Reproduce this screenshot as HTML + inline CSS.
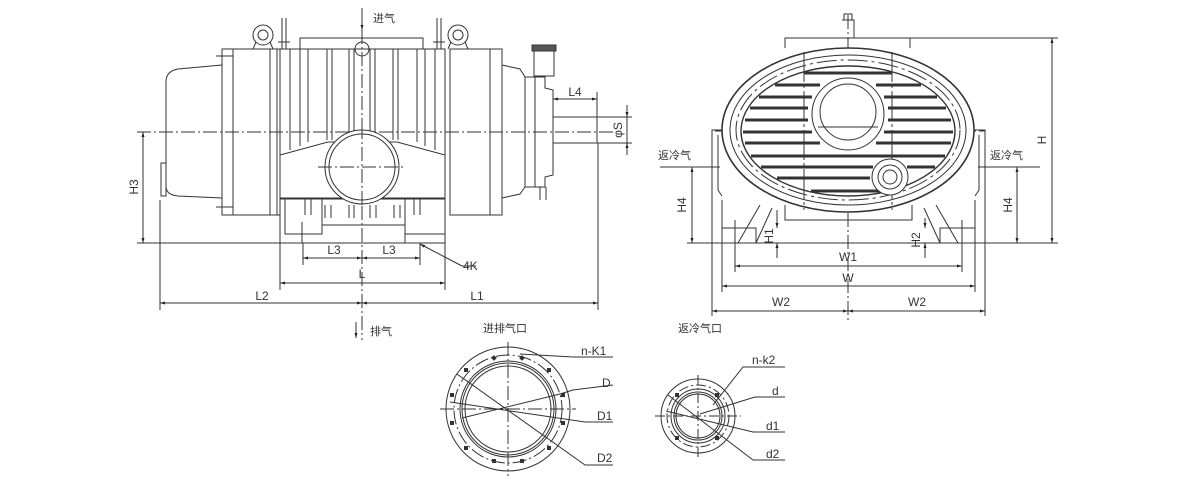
<!DOCTYPE html>
<html><head><meta charset="utf-8"><style>
html,body{margin:0;padding:0;background:#fff;}
svg{display:block;}
text{font-family:"Liberation Sans","Noto Sans CJK SC",sans-serif;fill:#333;font-size:12px;}
.c{font-family:"Liberation Sans","Noto Sans CJK SC",sans-serif;font-size:11px;}
</style></head><body>
<svg width="1200" height="477" viewBox="0 0 1200 477" xmlns="http://www.w3.org/2000/svg">
<defs>
<marker id="a" viewBox="0 0 10 10" refX="10" refY="5" markerWidth="7" markerHeight="5" orient="auto-start-reverse"><path d="M0,2 L10,5 L0,8z" fill="#222"/></marker>
</defs>
<g fill="none" stroke="#333" stroke-width="1">
<!-- ============ LEFT VIEW ============ -->
<line x1="362" y1="8" x2="362" y2="340" stroke-dasharray="14,3,2,3"/>
<line x1="137" y1="132" x2="615" y2="132" stroke-dasharray="14,3,2,3"/>
<!-- left cover -->
<path d="M222,65 L178,69 Q166,71 166,82 L166,186 Q166,195 178,196 L222,198"/>
<path d="M161,163 L166,163 L166,196 L161,196z"/>
<!-- left flange -->
<rect x="222" y="49" width="11" height="166"/>
<line x1="216" y1="56" x2="233" y2="56"/><line x1="216" y1="207" x2="233" y2="207"/>
<rect x="233" y="49" width="44" height="166"/>
<rect x="270" y="49" width="10" height="166"/>
<!-- center section -->
<rect x="280" y="49" width="165" height="150"/>
<path d="M290,49 V150 M300,49 V146 M308,49 V142 M327,49 V140 M332,49 V140 M349,49 V140 M354,49 V140 M370,49 V140 M375,49 V140 M393,49 V140 M398,49 V140 M417,49 V142 M425,49 V146 M435,49 V150"/>
<rect x="300" y="38" width="123" height="11"/>
<circle cx="362" cy="49" r="7"/>
<!-- saddle -->
<path d="M280,198 L280,155 L328,142 L397,142 L445,155 L445,198z" fill="#fff"/>
<circle cx="362" cy="167" r="37" fill="#fff"/>
<circle cx="362" cy="167" r="33"/>
<line x1="318" y1="167" x2="406" y2="167" stroke-dasharray="14,3,2,3"/>
<line x1="362" y1="125" x2="362" y2="210" stroke-dasharray="14,3,2,3"/>
<path d="M305,198 V215 M311,198 V215 M325,205 V218 M331,205 V218 M349,205 V218 M354,205 V218 M370,205 V218 M376,205 V218 M394,205 V218 M400,205 V218 M414,198 V215 M420,198 V215"/>
<!-- feet -->
<path d="M285,198 V234 H322 V198"/>
<path d="M302,222 V243 M405,222 V243"/>
<path d="M405,198 V234 H445 V198"/>
<line x1="280" y1="198" x2="280" y2="243"/><line x1="445" y1="198" x2="445" y2="243"/>
<path d="M322,225 H405"/>
<!-- right side -->
<rect x="450" y="49" width="40" height="166"/>
<rect x="490" y="49" width="12" height="166"/>
<path d="M502,65 L520,69 L525,77 L525,187 L520,194 L502,198"/>
<rect x="525" y="77" width="10" height="110"/>
<path d="M535,77 L545,77 L545,88 L553,90 L553,175 L545,177 L545,187 L535,187"/>
<rect x="534" y="48" width="20" height="28"/>
<rect x="532" y="45" width="24" height="6" fill="#555"/>
<path d="M540,187 V200 M546,187 V200"/>
<rect x="553" y="117" width="44" height="26"/>
<line x1="553" y1="112" x2="553" y2="150"/>
<!-- eyebolts -->
<circle cx="263" cy="35" r="10"/><circle cx="263" cy="35" r="5"/>
<path d="M256,42 L253,49 M270,42 L273,49"/>
<path d="M282,18 V49 M286,18 V49 M278,42 H290"/>
<circle cx="458" cy="35" r="10"/><circle cx="458" cy="35" r="5"/>
<path d="M451,42 L448,49 M465,42 L468,49"/>
<path d="M437,18 V49 M441,18 V49 M433,42 H445"/>
<!-- dims left -->
<line x1="137" y1="243" x2="445" y2="243"/>
<line x1="143" y1="132" x2="143" y2="243" marker-start="url(#a)" marker-end="url(#a)"/>
<line x1="160" y1="200" x2="160" y2="310"/>
<line x1="598" y1="143" x2="598" y2="310"/>
<line x1="303" y1="243" x2="303" y2="265"/><line x1="420" y1="243" x2="420" y2="265"/>
<line x1="303" y1="258" x2="362" y2="258" marker-start="url(#a)" marker-end="url(#a)"/>
<line x1="362" y1="258" x2="420" y2="258" marker-start="url(#a)" marker-end="url(#a)"/>
<line x1="280" y1="243" x2="280" y2="290"/><line x1="445" y1="243" x2="445" y2="290"/>
<line x1="280" y1="283" x2="445" y2="283" marker-start="url(#a)" marker-end="url(#a)"/>
<line x1="160" y1="303" x2="362" y2="303" marker-start="url(#a)" marker-end="url(#a)"/>
<line x1="362" y1="303" x2="598" y2="303" marker-start="url(#a)" marker-end="url(#a)"/>
<path d="M462,266 L476,266"/><line x1="462" y1="266" x2="420" y2="244" marker-end="url(#a)"/>
<line x1="553" y1="99" x2="597" y2="99" marker-start="url(#a)" marker-end="url(#a)"/>
<line x1="597" y1="92" x2="597" y2="117"/>
<line x1="597" y1="117" x2="632" y2="117"/><line x1="597" y1="143" x2="632" y2="143"/>
<line x1="627" y1="105" x2="627" y2="117" marker-end="url(#a)"/>
<line x1="627" y1="155" x2="627" y2="143" marker-end="url(#a)"/>
<line x1="627" y1="117" x2="627" y2="143"/>
<line x1="362" y1="8" x2="362" y2="30" marker-end="url(#a)" stroke-dasharray="none"/>
<line x1="356" y1="322" x2="356" y2="338" marker-end="url(#a)"/>

<!-- ============ RIGHT VIEW ============ -->
<line x1="848" y1="15" x2="848" y2="320" stroke-dasharray="14,3,2,3"/>
<line x1="715" y1="131" x2="985" y2="131" stroke-dasharray="14,3,2,3"/>
<!-- brackets -->
<path d="M712,243 V130 H722 M712,130 V196 M718,135 V190 L722,196"/>
<path d="M985,243 V130 H975 M985,130 V196 M979,135 V190 L975,196"/>
<path d="M760,205 L738,243 M772,208 L756,243 M936,205 L958,243 M924,208 L940,243"/>
<path d="M722,228 H756 V243 M975,228 H940 V243"/>
<path d="M785,205 V220 H912 V205"/>
<ellipse cx="848" cy="130" rx="126" ry="82" fill="#fff" stroke-width="1.6"/>
<ellipse cx="848" cy="130" rx="118" ry="75"/>
<ellipse cx="848" cy="130" rx="112" ry="70" stroke-dasharray="20,4,3,4"/>
<ellipse cx="848" cy="131" rx="107" ry="65" stroke-width="1.4"/>
<line x1="804" y1="52" x2="804" y2="210" stroke-dasharray="30,3,3,3"/>
<line x1="892" y1="52" x2="892" y2="210" stroke-dasharray="30,3,3,3"/>
<path d="M785,48 V38 H910 V48 M842,20 H854 V38 M844,20 V14 H852 V20"/>
</g>
<g stroke="#333" stroke-width="3" fill="none">
<path d="M804,73H892 M775,85H820 M876,85H921 M759,97H812 M884,97H937 M750,108H808 M888,108H946 M745,120H808 M888,120H951 M743,132H812 M884,132H953 M745,143H820 M876,143H951 M751,156H945 M761,167H873 M907,167H935 M777,178H870 M811,191H885"/>
</g>
<g fill="none" stroke="#333" stroke-width="1">
<circle cx="848" cy="114" r="36" fill="#fff"/>
<circle cx="848" cy="112" r="28"/>
<path d="M818,127 H878"/>
<circle cx="890" cy="177" r="18" fill="#fff"/><circle cx="890" cy="177" r="12"/><circle cx="890" cy="177" r="7"/>
<!-- dims right -->
<line x1="687" y1="243" x2="1058" y2="243"/>
<line x1="910" y1="38" x2="1058" y2="38"/>
<line x1="1052" y1="38" x2="1052" y2="243" marker-start="url(#a)" marker-end="url(#a)"/>
<line x1="660" y1="167" x2="720" y2="167"/><line x1="978" y1="167" x2="1040" y2="167"/>
<line x1="692" y1="167" x2="692" y2="243" marker-start="url(#a)" marker-end="url(#a)"/>
<line x1="1017" y1="167" x2="1017" y2="243" marker-start="url(#a)" marker-end="url(#a)"/>
<line x1="777" y1="210" x2="777" y2="228" marker-end="url(#a)"/>
<line x1="777" y1="258" x2="777" y2="243" marker-end="url(#a)"/>
<line x1="925" y1="218" x2="925" y2="228" marker-end="url(#a)"/>
<line x1="925" y1="258" x2="925" y2="243" marker-end="url(#a)"/>
<line x1="735" y1="220" x2="735" y2="272"/><line x1="962" y1="220" x2="962" y2="272"/>
<line x1="735" y1="266" x2="962" y2="266" marker-start="url(#a)" marker-end="url(#a)"/>
<line x1="722" y1="200" x2="722" y2="292"/><line x1="975" y1="200" x2="975" y2="292"/>
<line x1="722" y1="286" x2="975" y2="286" marker-start="url(#a)" marker-end="url(#a)"/>
<line x1="712" y1="243" x2="712" y2="316"/><line x1="985" y1="243" x2="985" y2="316"/>
<line x1="712" y1="311" x2="848" y2="311" marker-start="url(#a)" marker-end="url(#a)"/>
<line x1="848" y1="311" x2="985" y2="311" marker-start="url(#a)" marker-end="url(#a)"/>

<!-- ============ FLANGES ============ -->
<circle cx="508" cy="409" r="62"/>
<circle cx="508" cy="409" r="54" stroke-dasharray="14,3,2,3"/>
<circle cx="508" cy="409" r="48"/><circle cx="508" cy="409" r="46"/><circle cx="508" cy="409" r="43"/>
<line x1="440" y1="409" x2="576" y2="409" stroke-dasharray="14,3,2,3"/>
<line x1="508" y1="342" x2="508" y2="476" stroke-dasharray="14,3,2,3"/>
<path d="M457,374 L585,465 L613,465 M450,402 L585,422 L613,422 M462,418 L560,394 L573,390 L613,385 M520,354 L573,357 L613,357"/>
<circle cx="698" cy="416" r="37"/>
<circle cx="698" cy="416" r="31" stroke-dasharray="10,3,2,3"/>
<circle cx="698" cy="416" r="27"/><circle cx="698" cy="416" r="24"/><circle cx="698" cy="416" r="22"/>
<line x1="655" y1="416" x2="741" y2="416" stroke-dasharray="10,3,2,3"/>
<line x1="698" y1="375" x2="698" y2="458" stroke-dasharray="10,3,2,3"/>
<path d="M668,395 L753,460 L785,460 M666,411 L753,432 L785,432 M700,414 L755,397 L785,397 M713,405 L743,367 L785,367"/>
</g>
<g fill="#333">
<rect x="492" y="356" width="4" height="4" transform="rotate(45 494 358)"/>
<rect x="520" y="356" width="4" height="4" transform="rotate(45 522 358)"/>
<rect x="464" y="368" width="4" height="4"/><rect x="547" y="368" width="4" height="4"/>
<rect x="450" y="393" width="4" height="4"/><rect x="561" y="393" width="4" height="4"/>
<rect x="450" y="421" width="4" height="4"/><rect x="561" y="421" width="4" height="4"/>
<rect x="464" y="446" width="4" height="4"/><rect x="547" y="446" width="4" height="4"/>
<rect x="492" y="459" width="4" height="4"/><rect x="520" y="459" width="4" height="4"/>
<rect x="675" y="393" width="4" height="4"/><rect x="715" y="393" width="4" height="4"/>
<rect x="675" y="436" width="4" height="4"/><rect x="715" y="436" width="4" height="4"/>
</g>
<!-- text -->
<text x="373" y="22" class="c">进气</text>
<text x="370" y="335" class="c">排气</text>
<text transform="translate(138,187) rotate(-90)" text-anchor="middle">H3</text>
<text x="334" y="254" text-anchor="middle">L3</text>
<text x="389" y="254" text-anchor="middle">L3</text>
<text x="362" y="278" text-anchor="middle">L</text>
<text x="262" y="300" text-anchor="middle">L2</text>
<text x="477" y="300" text-anchor="middle">L1</text>
<text x="463" y="270">4K</text>
<text x="575" y="96" text-anchor="middle">L4</text>
<text transform="translate(622,130) rotate(-90)" text-anchor="middle">φS</text>
<text x="658" y="159" class="c">返冷气</text>
<text x="990" y="159" class="c">返冷气</text>
<text transform="translate(686,205) rotate(-90)" text-anchor="middle">H4</text>
<text transform="translate(1012,205) rotate(-90)" text-anchor="middle">H4</text>
<text transform="translate(773,236) rotate(-90)" text-anchor="middle">H1</text>
<text transform="translate(920,240) rotate(-90)" text-anchor="middle">H2</text>
<text transform="translate(1046,140) rotate(-90)" text-anchor="middle">H</text>
<text x="848" y="261" text-anchor="middle">W1</text>
<text x="848" y="282" text-anchor="middle">W</text>
<text x="781" y="306" text-anchor="middle">W2</text>
<text x="917" y="306" text-anchor="middle">W2</text>
<text x="505" y="332" text-anchor="middle" class="c">进排气口</text>
<text x="700" y="332" text-anchor="middle" class="c">返冷气口</text>
<text x="581" y="355" font-size="14">n-K1</text>
<text x="602" y="387" font-size="14">D</text>
<text x="597" y="420" font-size="14">D1</text>
<text x="597" y="462" font-size="14">D2</text>
<text x="752" y="364" font-size="14">n-k2</text>
<text x="772" y="395" font-size="14">d</text>
<text x="766" y="430" font-size="14">d1</text>
<text x="766" y="458" font-size="14">d2</text>
</svg>
</body></html>
